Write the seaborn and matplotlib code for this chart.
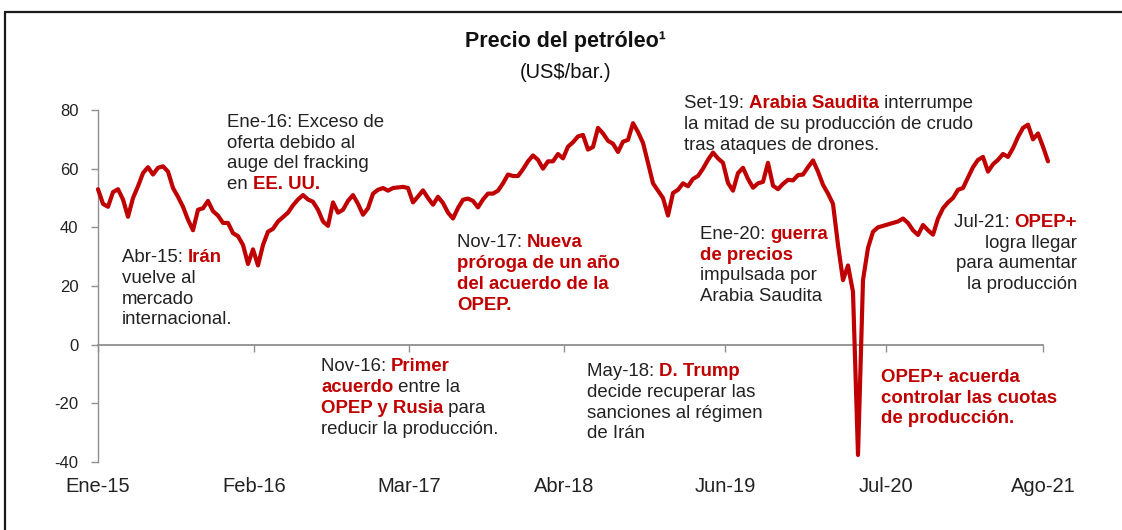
import numpy as np
import pandas as pd
import matplotlib
matplotlib.use("Agg")
import matplotlib.pyplot as plt
import seaborn as sns
from matplotlib import transforms as mtrans
from matplotlib.lines import Line2D

# ---------------- data ----------------
price = [
    53, 48, 47, 52, 53, 49.5, 43.6, 50, 54, 58.5,
    60.5, 58, 60.3, 60.8, 59, 53.4, 50.4, 47, 42.6, 39,
    46, 46.5, 49, 45.5, 44, 41.5, 41.5, 38, 37, 34,
    27.5, 32.5, 27, 34, 38.5, 39.5, 42, 43.5, 45, 47.5,
    49.5, 51, 49.5, 48.7, 46, 42, 40.5, 48.5, 45, 46,
    49, 51, 48, 44.3, 46.5, 51.5, 52.8, 53.4, 52.5, 53.4,
    53.6, 53.8, 53.4, 48.5, 50.5, 52.6, 50, 47.7, 50.4, 48.3,
    45, 43, 46.6, 49.4, 49.8, 49, 46.8, 49.5, 51.5, 51.5,
    52.5, 55, 58, 57.5, 57.5, 59.8, 62.5, 64.5, 63, 60,
    62.5, 62.5, 65, 63.5, 67.5, 69, 71, 71.5, 66.5, 67.4,
    73.9, 72, 69.5, 68.5, 65.7, 69.2, 69.8, 75.5, 72.5, 68.8,
    62, 55, 52.5, 50, 44, 51.7, 52.8, 55, 54, 56.5,
    57.5, 60, 63, 65.5, 63.5, 62, 55.1, 52.5, 58.5, 60.3,
    56.5, 53.5, 55, 55.5, 62, 54.2, 53, 54.8, 56.2, 56,
    57.8, 58, 60.5, 62.8, 59, 54.5, 51.5, 48, 34, 22,
    27, 18, -37.6, 22, 33, 38.5, 40, 40.5, 41, 41.5,
    42, 43, 41.5, 39, 37.4, 40.8, 39, 37.5, 43, 46.5,
    48.5, 50, 52.8, 53.4, 57, 60.5, 63, 64, 59, 61.5,
    63, 65, 64, 67, 70.8, 73.9, 75, 70, 72, 67.5,
    62.5,
]
x_tick_labels = ["Ene-15", "Feb-16", "Mar-17", "Abr-18", "Jun-19", "Jul-20", "Ago-21"]
x_tick_pos = [0, 31.2, 62.2, 93.2, 125.4, 157.6, 189]
y_ticks = [80, 60, 40, 20, 0, -20, -40]

title = "Precio del petróleo¹"
subtitle = "(US$/bar.)"

# annotation texts; *...* marks red bold runs
ann_texts = [
    ["Abr-15: *Irán*", "vuelve al", "mercado", "internacional."],
    ["Ene-16: Exceso de", "oferta debido al", "auge del fracking", "en *EE. UU.*"],
    ["Nov-16: *Primer*", "*acuerdo* entre la", "*OPEP y Rusia* para", "reducir la producción."],
    ["Nov-17: *Nueva*", "*próroga de un año*", "*del acuerdo de la*", "*OPEP.*"],
    ["May-18: *D. Trump*", "decide recuperar las", "sanciones al régimen", "de Irán"],
    ["Set-19: *Arabia Saudita* interrumpe", "la mitad de su producción de crudo",
     "tras ataques de drones."],
    ["Ene-20: *guerra*", "*de precios*", "impulsada por", "Arabia Saudita"],
    ["*OPEP+ acuerda*", "*controlar las cuotas*", "*de producción.*"],
    ["Jul-21: *OPEP+*", "logra llegar", "para aumentar", "la producción"],
]
# layout of the annotations: (x px, first-line centre y px, alignment)
ann_layout = [
    (122, 256, "left"),
    (227, 120.5, "left"),
    (321, 365, "left"),
    (457, 241, "left"),
    (587, 370, "left"),
    (684, 102, "left"),
    (700, 232.5, "left"),
    (881, 375.5, "left"),
    (1077, 220.5, "right"),
]

# ---------------- style ----------------
RED = "#C00000"
DARK = "#222222"
AXIS_GRAY = "#8f8f8f"
W, H = 1122, 530

sns.set_style("white")
plt.rcParams["font.family"] = ["Liberation Sans", "DejaVu Sans"]
plt.rcParams["axes.unicode_minus"] = False

fig = plt.figure(figsize=(W / 100, H / 100), dpi=100)
fig.patch.set_facecolor("white")
ax = fig.add_axes([98 / W, 1 - 462 / H, (1043 - 98) / W, 352 / H])

df = pd.DataFrame({"idx": np.arange(len(price)), "precio": price})
sns.lineplot(data=df, x="idx", y="precio", ax=ax, color=RED, linewidth=3.0,
             clip_on=False, zorder=3, solid_joinstyle="round", solid_capstyle="round")

ax.set_xlim(0, 189)
ax.set_ylim(-40, 80)
ax.set_xlabel("")
ax.set_ylabel("")
for s in ["top", "right"]:
    ax.spines[s].set_visible(False)
ax.spines["left"].set_color(AXIS_GRAY)
ax.spines["left"].set_linewidth(1.0)
ax.spines["bottom"].set_position(("data", 0))
ax.spines["bottom"].set_color(AXIS_GRAY)
ax.spines["bottom"].set_linewidth(1.3)

ax.set_xticks(x_tick_pos)
ax.set_xticklabels([""] * len(x_tick_pos))
ax.tick_params(axis="x", direction="out", length=5, width=1, color=AXIS_GRAY, bottom=True)
ax.set_yticks(y_ticks)
ax.tick_params(axis="y", direction="out", length=5, width=1, color=AXIS_GRAY, left=True,
               labelsize=12, labelcolor=DARK, pad=9)

for p, lab in zip(x_tick_pos, x_tick_labels):
    ax.annotate(lab, xy=(p, 0), xycoords=ax.get_xaxis_transform(), xytext=(0, -25),
                textcoords="offset pixels", ha="center", va="center", fontsize=14.5,
                color=DARK, annotation_clip=False)

# ---------------- title ----------------
fig.text(565 / W, 1 - 42 / H, title, ha="center", va="center", fontsize=15.5,
         fontweight="bold", color="#111111")
fig.text(566 / W, 1 - 72 / H, subtitle, ha="center", va="center", fontsize=14.5,
         color="#111111")

# ---------------- rich annotations ----------------
renderer = fig.canvas.get_renderer()
ident = mtrans.IdentityTransform()
ANN_SIZE = 13.4
LINE_H = 20.7
BASE_OFF = 6.4


def seg_width(s, weight):
    t1 = fig.text(0, 0, "|" + s + "|", fontsize=ANN_SIZE, fontweight=weight, transform=ident)
    t2 = fig.text(0, 0, "||", fontsize=ANN_SIZE, fontweight=weight, transform=ident)
    w = t1.get_window_extent(renderer).width - t2.get_window_extent(renderer).width
    t1.remove()
    t2.remove()
    return w


for lines, (x0, y0, align) in zip(ann_texts, ann_layout):
    for li, line in enumerate(lines):
        parts = line.split("*")
        segs = [(p, i % 2 == 1) for i, p in enumerate(parts) if p]
        widths = [seg_width(p, "bold" if red else "normal") for p, red in segs]
        total = sum(widths)
        x = x0 if align == "left" else x0 - total
        yb = H - (y0 + li * LINE_H + BASE_OFF)
        for (p, red), w in zip(segs, widths):
            fig.text(x, yb, p, transform=ident, fontsize=ANN_SIZE,
                     fontweight="bold" if red else "normal",
                     color=RED if red else DARK, ha="left", va="baseline")
            x += w

# ---------------- frame ----------------
fig.add_artist(Line2D([5 / W, 1.0], [1 - 12 / H, 1 - 12 / H], color="#1a1a1a", lw=1.6))
fig.add_artist(Line2D([5 / W, 5 / W], [0, 1 - 12 / H], color="#1a1a1a", lw=1.6))

fig.savefig("out.png", dpi=100, facecolor="white")
